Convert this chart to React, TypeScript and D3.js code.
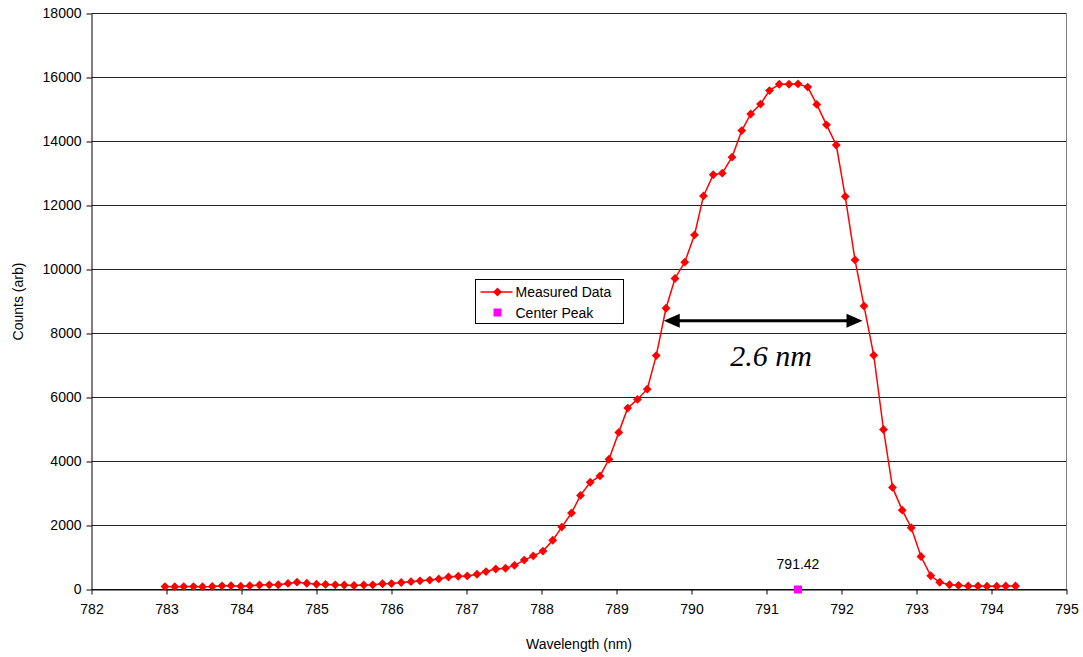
import React, { useEffect, useRef } from 'react';
import * as d3 from 'd3';

// spectrum
const wavelength = [
  782.98, 783.11, 783.23, 783.36, 783.48, 783.61, 783.74, 783.86, 783.99, 784.11,
  784.24, 784.37, 784.49, 784.62, 784.74, 784.87, 785.0, 785.12, 785.25, 785.37,
  785.5, 785.63, 785.75, 785.88, 786.0, 786.13, 786.26, 786.38, 786.51, 786.63,
  786.76, 786.89, 787.01, 787.14, 787.26, 787.39, 787.52, 787.64, 787.77, 787.89,
  788.02, 788.15, 788.27, 788.4, 788.52, 788.65, 788.78, 788.9, 789.03, 789.15,
  789.28, 789.41, 789.53, 789.66, 789.78, 789.91, 790.04, 790.16, 790.29, 790.41,
  790.54, 790.67, 790.79, 790.92, 791.04, 791.17, 791.3, 791.42, 791.55, 791.67,
  791.8, 791.93, 792.05, 792.18, 792.3, 792.43, 792.56, 792.68, 792.81, 792.93,
  793.06, 793.19, 793.31, 793.44, 793.56, 793.69, 793.82, 793.94, 794.07, 794.19,
  794.32,
];
const counts = [
  90, 85, 90, 90, 85, 95, 115, 120, 100, 120,
  140, 145, 150, 190, 230, 195, 165, 160, 145, 140,
  125, 140, 145, 180, 185, 220, 245, 270, 295, 330,
  390, 415, 425, 475, 560, 640, 665, 755, 920, 1050,
  1200, 1540, 1950, 2390, 2940, 3350, 3550, 4070, 4910, 5670,
  5940, 6260, 7310, 8790, 9720, 10230, 11080, 12300, 12960, 13010,
  13510, 14340, 14860, 15170, 15590, 15790, 15790, 15800, 15700, 15160,
  14520, 13890, 12280, 10300, 8860, 7320, 5000, 3190, 2480, 1930,
  1030, 430, 225, 150, 130, 110, 110, 105, 105, 110,
  110,
];
const peakWavelength = [791.42];
const peakCounts = [0];
const peakLabels = ['791.42'];
const fwhmFrom = 789.63;
const fwhmTo = 792.28;
const fwhmLevel = 8400;
const fwhmLabel = '2.6 nm';
const xTicks = [782, 783, 784, 785, 786, 787, 788, 789, 790, 791, 792, 793, 794, 795];
const yTicks = [0, 2000, 4000, 6000, 8000, 10000, 12000, 14000, 16000, 18000];
const seriesNames = ['Measured Data', 'Center Peak'];

const font = 'Liberation Sans, Arial, sans-serif';

export default function App() {
  const ref = useRef<SVGSVGElement>(null);

  useEffect(() => {
    let width = 1083;
    let height = 657;
    let left = 91.5, right = 1066.5, top = 13.5, bottom = 589.5;

    let x = d3.scaleLinear().domain([782, 795]).range([left, right]);
    let y = d3.scaleLinear().domain([0, 18000]).range([bottom, top]);

    let svg = d3.select(ref.current);
    svg.selectAll('*').remove();
    svg.attr('width', width).attr('height', height);

    svg.append('rect').attr('width', width).attr('height', height).attr('fill', '#fff');

    // gridlines
    svg
      .append('g')
      .selectAll('line')
      .data(yTicks)
      .enter()
      .append('line')
      .attr('x1', left)
      .attr('x2', right)
      .attr('y1', d => y(d))
      .attr('y2', d => y(d))
      .attr('stroke', '#222')
      .attr('stroke-width', 1);

    // right border of plot area
    svg
      .append('line')
      .attr('x1', right)
      .attr('x2', right)
      .attr('y1', top)
      .attr('y2', bottom)
      .attr('stroke', '#808080');

    let yAxis = svg
      .append('g')
      .attr('transform', `translate(${left},0)`)
      .call(d3.axisLeft(y).tickValues(yTicks).tickFormat(d3.format('d')).tickSize(5).tickSizeOuter(0).tickPadding(5));
    let xAxis = svg
      .append('g')
      .attr('transform', `translate(0,${bottom})`)
      .call(d3.axisBottom(x).tickValues(xTicks).tickFormat(d3.format('d')).tickSize(5).tickSizeOuter(0).tickPadding(10));
    [yAxis, xAxis].forEach(a => {
      a.selectAll('path,line').attr('stroke', '#000');
      a.selectAll('text').attr('font-family', font).attr('font-size', 14).attr('fill', '#000');
    });

    svg
      .append('text')
      .attr('x', (left + right) / 2)
      .attr('y', 649)
      .attr('text-anchor', 'middle')
      .attr('font-family', font)
      .attr('font-size', 14)
      .text('Wavelength (nm)');

    svg
      .append('text')
      .attr('transform', `translate(23,${(top + bottom) / 2}) rotate(-90)`)
      .attr('text-anchor', 'middle')
      .attr('font-family', font)
      .attr('font-size', 14)
      .text('Counts (arb)');

    let data = wavelength.map((w, i) => ({ w, c: counts[i] }));

    let line = d3
      .line<{ w: number; c: number }>()
      .x(d => x(d.w))
      .y(d => y(d.c));

    svg
      .append('path')
      .datum(data)
      .attr('fill', 'none')
      .attr('stroke', '#ff0000')
      .attr('stroke-width', 1.5)
      .attr('d', line);

    let diamond = d3.symbol().type(d3.symbolDiamond2).size(50);
    svg
      .append('g')
      .selectAll('path')
      .data(data)
      .enter()
      .append('path')
      .attr('transform', d => `translate(${x(d.w)},${y(d.c)})`)
      .attr('d', diamond)
      .attr('fill', '#ff0000');

    // center peak marker
    let peaks = peakWavelength.map((w, i) => ({ w, c: peakCounts[i], label: peakLabels[i] }));
    svg
      .append('g')
      .selectAll('rect')
      .data(peaks)
      .enter()
      .append('rect')
      .attr('x', d => x(d.w) - 4)
      .attr('y', d => y(d.c) - 4)
      .attr('width', 8)
      .attr('height', 8)
      .attr('fill', '#ff00ff');
    svg
      .append('g')
      .selectAll('text')
      .data(peaks)
      .enter()
      .append('text')
      .attr('x', d => x(d.w))
      .attr('y', d => y(d.c) - 21)
      .attr('text-anchor', 'middle')
      .attr('font-family', font)
      .attr('font-size', 14)
      .text(d => d.label);

    // FWHM arrow
    let ax1 = x(fwhmFrom), ax2 = x(fwhmTo), ay = y(fwhmLevel);
    let head = 16, half = 7;
    svg
      .append('line')
      .attr('x1', ax1 + head - 2)
      .attr('x2', ax2 - head + 2)
      .attr('y1', ay)
      .attr('y2', ay)
      .attr('stroke', '#000')
      .attr('stroke-width', 3);
    svg
      .append('path')
      .attr('d', `M${ax1},${ay}L${ax1 + head},${ay - half}L${ax1 + head},${ay + half}Z`)
      .attr('fill', '#000');
    svg
      .append('path')
      .attr('d', `M${ax2},${ay}L${ax2 - head},${ay - half}L${ax2 - head},${ay + half}Z`)
      .attr('fill', '#000');
    svg
      .append('text')
      .attr('x', (ax1 + ax2) / 2 + 8)
      .attr('y', ay + 45)
      .attr('text-anchor', 'middle')
      .attr('font-family', 'Liberation Serif, Times New Roman, serif')
      .attr('font-style', 'italic')
      .attr('font-size', 30)
      .text(fwhmLabel);

    // legend
    let lg = svg.append('g').attr('transform', 'translate(475.5,279.5)');
    lg.append('rect')
      .attr('width', 148)
      .attr('height', 44)
      .attr('fill', '#fff')
      .attr('stroke', '#000');
    lg.append('line')
      .attr('x1', 5)
      .attr('x2', 37)
      .attr('y1', 12.5)
      .attr('y2', 12.5)
      .attr('stroke', '#ff0000')
      .attr('stroke-width', 1.5);
    lg.append('path').attr('transform', 'translate(22,12.5)').attr('d', diamond).attr('fill', '#ff0000');
    lg.append('rect').attr('x', 18).attr('y', 29).attr('width', 8).attr('height', 8).attr('fill', '#ff00ff');
    lg.selectAll('text.name')
      .data(seriesNames)
      .enter()
      .append('text')
      .attr('class', 'name')
      .attr('x', 40)
      .attr('y', (d, i) => 17.5 + i * 21)
      .attr('font-family', font)
      .attr('font-size', 14)
      .text(d => d);
  }, []);

  return <svg ref={ref} style={{ position: 'absolute', left: 0, top: 0, display: 'block' }} />;
}
